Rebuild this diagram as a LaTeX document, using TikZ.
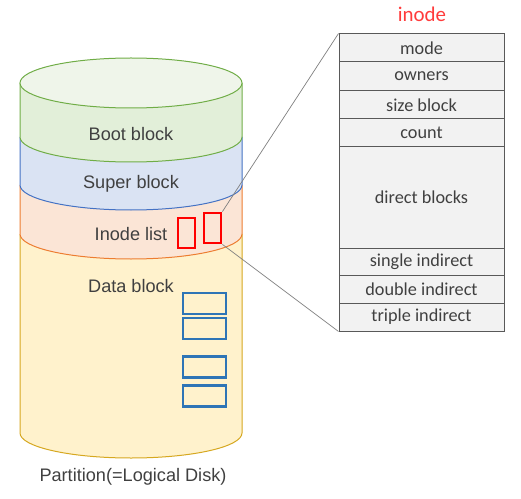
\documentclass[tikz,border=0pt]{standalone}
\usepackage{fontspec}
\setmainfont{Liberation Sans}
\newfontfamily\carl{Carlito}
\definecolor{gfill}{HTML}{E2EFD9}
\definecolor{gtop}{HTML}{EFF5EA}
\definecolor{gline}{HTML}{70AD47}
\definecolor{bfill}{HTML}{DAE3F3}
\definecolor{bline}{HTML}{4472C4}
\definecolor{ofill}{HTML}{FBE5D6}
\definecolor{oline}{HTML}{ED7D31}
\definecolor{yfill}{HTML}{FFF2CC}
\definecolor{yline}{HTML}{D6A820}
\definecolor{txt}{HTML}{404040}
\definecolor{tfill}{HTML}{F2F2F2}
\definecolor{tline}{HTML}{7F7F7F}
\definecolor{rowline}{HTML}{595959}
\definecolor{ired}{HTML}{FF3B3B}
\definecolor{dblue}{HTML}{2E75B6}
\tikzset{
  disktext/.style={text=txt,font=\fontsize{18.2}{21}\selectfont,inner sep=0},
  trow/.style={draw=rowline,fill=tfill,line width=1bp,minimum width=165bp,inner sep=0,
    text=txt,font=\carl\fontsize{18.3}{21}\selectfont},
  redbox/.style={draw=red,line width=2.8bp,minimum width=17bp,minimum height=30bp,inner sep=0},
  bluebox/.style={draw=dblue,line width=2.2bp,minimum width=43bp,minimum height=21bp,inner sep=0},
  zoomline/.style={draw=tline,line width=0.7bp}
}
\newcommand{\band}[4]{% top, bottom, fill, line
  \fill[#3] (20,#1) -- (20,#2) arc[start angle=180,end angle=360,x radius=111bp,y radius=25bp]
    -- (242,#1) arc[start angle=0,end angle=180,x radius=111bp,y radius=25bp] -- cycle;
  \draw[#4,line width=1bp] (20,#1) -- (20,#2) arc[start angle=180,end angle=360,x radius=111bp,y radius=25bp] -- (242,#1);
}
\begin{document}
\begin{tikzpicture}[x=1bp,y=-1bp]
\useasboundingbox (0,0) rectangle (521,499);
\band{234}{433}{yfill}{yline}
\band{185}{234}{ofill}{oline}
\band{137}{185}{bfill}{bline}
\band{83}{137}{gfill}{gline}
\draw[gline,fill=gtop,line width=1bp] (131,83) ellipse[x radius=111bp,y radius=25bp];

\node[disktext] (boot) at (131,134) {Boot block};
\node[disktext] (super) at (131,184) {Super block};
\node[disktext] (inodelist) at (131,234) {Inode list};
\node[disktext] (data) at (131,286) {Data block};
\node[disktext] (part) at (133,477) {Partition(=Logical Disk)};

\node[redbox] (r1) at (186.5,233) {};
\node[redbox] (r2) at (212.5,228) {};

\node[bluebox] (b1) at (204.5,303.5) {};
\node[bluebox] (b2) at (204.5,328.5) {};
\node[bluebox] (b3) at (204.5,367) {};
\node[bluebox] (b4) at (204.5,396) {};

\node[text=ired,font=\carl\fontsize{21}{24}\selectfont,inner sep=0] (title) at (422,14) {inode};
\node[trow,minimum height=28bp] (mode) at (421.5,48) {mode};
\node[trow,minimum height=29bp] (owners) at (421.5,76.5) {owners};
\node[trow,minimum height=28bp] (size) at (421.5,105) {size block};
\node[trow,minimum height=28bp] (count) at (421.5,133) {count};
\node[trow,minimum height=101bp] (direct) at (421.5,197.5) {direct blocks};
\node[trow,minimum height=27bp] (single) at (421.5,261.5) {single indirect};
\node[trow,minimum height=28bp] (double) at (421.5,289) {double indirect};
\node[trow,minimum height=28bp] (triple) at (421.5,317) {triple indirect};

\draw[zoomline] (r2.north east) -- (mode.north west);
\draw[zoomline] (r2.south east) -- (triple.south west);
\end{tikzpicture}
\end{document}
